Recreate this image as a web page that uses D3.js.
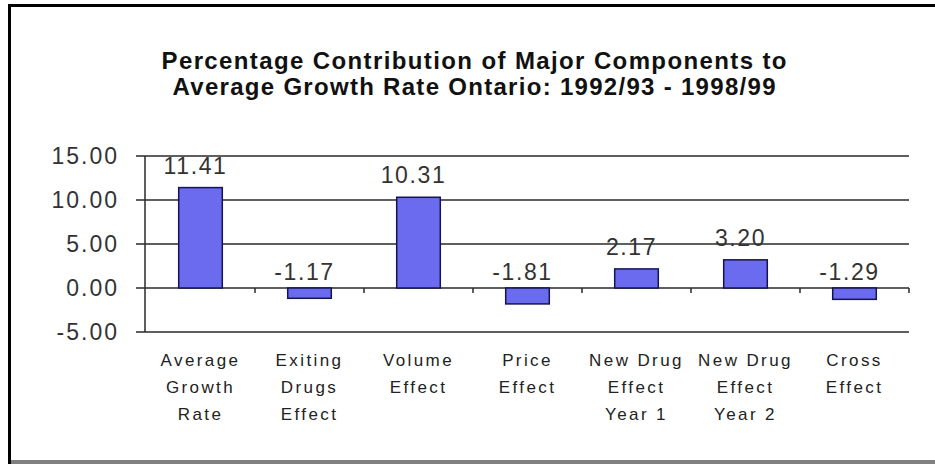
<!DOCTYPE html>
<html>
<head>
<meta charset="utf-8">
<script src="https://cdn.jsdelivr.net/npm/d3@7"></script>
<style>
  body { margin: 0; background: #fff; }
  text { font-family: "Liberation Sans", Arial, sans-serif; }
  .title { font-family: "Liberation Sans Narrow", "Arial Narrow", "Liberation Sans", sans-serif; }
</style>
</head>
<body>
<div id="chart"></div>
<script>
var titleLines = ["Percentage Contribution of Major Components to",
                  "Average Growth Rate Ontario: 1992/93 - 1998/99"];
var categories = ["Average Growth Rate", "Exiting Drugs Effect", "Volume Effect", "Price Effect",
                  "New Drug Effect Year 1", "New Drug Effect Year 2", "Cross Effect"];
var categoryLines = [["Average", "Growth", "Rate"], ["Exiting", "Drugs", "Effect"], ["Volume", "Effect"],
                     ["Price", "Effect"], ["New Drug", "Effect", "Year 1"], ["New Drug", "Effect", "Year 2"],
                     ["Cross", "Effect"]];
var values = [11.41, -1.17, 10.31, -1.81, 2.17, 3.20, -1.29];
var yTicks = [-5, 0, 5, 10, 15];

var width = 935, height = 464;
var fmt = function (d) { return d.toFixed(2); };

var svg = d3.select("#chart")
    .append("svg")
    .attr("width", width)
    .attr("height", height);

// frame: black left and top, gray bottom
svg.append("rect").attr("x", 8).attr("y", 4).attr("width", 927).attr("height", 3).attr("fill", "#000");
svg.append("rect").attr("x", 8).attr("y", 4).attr("width", 3).attr("height", 460).attr("fill", "#000");
svg.append("rect").attr("x", 11).attr("y", 460).attr("width", 924).attr("height", 4).attr("fill", "#808080");

// title (stretched to the width of the original)
var titleWidths = [625, 603];
svg.selectAll(".title")
    .data(titleLines)
    .enter()
    .append("text")
    .attr("class", "title")
    .attr("x", 474)
    .attr("y", function (d, i) { return 69 + i * 26; })
    .attr("text-anchor", "middle")
    .attr("font-size", 24)
    .attr("font-weight", "bold")
    .attr("textLength", function (d, i) { return titleWidths[i]; })
    .attr("lengthAdjust", "spacing")
    .attr("fill", "#111")
    .text(function (d) { return d; });

var x = d3.scaleBand()
    .domain(categories)
    .range([146, 909])
    .paddingInner(0.6)
    .paddingOuter(0.3);

var y = d3.scaleLinear()
    .domain([-5, 15])
    .range([332, 156]);

// gridlines
svg.append("g")
    .selectAll("line")
    .data(yTicks)
    .enter()
    .append("line")
    .attr("x1", 136)
    .attr("x2", 909)
    .attr("y1", function (d) { return y(d); })
    .attr("y2", function (d) { return y(d); })
    .attr("stroke", "#2a2a2a")
    .attr("stroke-width", 1.5);

// y axis line
svg.append("line")
    .attr("x1", 145).attr("x2", 145)
    .attr("y1", y(15)).attr("y2", y(-5))
    .attr("stroke", "#2a2a2a")
    .attr("stroke-width", 1.5);

// tick labels
svg.append("g")
    .selectAll("text")
    .data(yTicks)
    .enter()
    .append("text")
    .attr("x", 119)
    .attr("y", function (d) { return y(d) + 8; })
    .attr("text-anchor", "end")
    .attr("font-size", 23)
    .attr("letter-spacing", 2)
    .attr("fill", "#333")
    .text(fmt);

// category boundary ticks on the zero line
var step = x.step();
svg.append("g")
    .selectAll("line")
    .data(categories)
    .enter()
    .append("line")
    .attr("x1", function (d) { return x(d) - x.paddingOuter() * step + step; })
    .attr("x2", function (d) { return x(d) - x.paddingOuter() * step + step; })
    .attr("y1", y(0))
    .attr("y2", y(0) + 5)
    .attr("stroke", "#2a2a2a")
    .attr("stroke-width", 1.5);

// bars
svg.append("g")
    .selectAll("rect")
    .data(values)
    .enter()
    .append("rect")
    .attr("x", function (d, i) { return x(categories[i]); })
    .attr("y", function (d) { return y(Math.max(d, 0)); })
    .attr("width", x.bandwidth())
    .attr("height", function (d) { return Math.abs(y(d) - y(0)); })
    .attr("fill", "#6b6bef")
    .attr("stroke", "#141450")
    .attr("stroke-width", 1.5);

// value labels
svg.append("g")
    .selectAll("text")
    .data(values)
    .enter()
    .append("text")
    .attr("x", function (d, i) { return x(categories[i]) + x.bandwidth() / 2 - 5; })
    .attr("y", function (d) { return d >= 0 ? y(d) - 14 : y(0) - 8; })
    .attr("text-anchor", "middle")
    .attr("font-size", 23)
    .attr("letter-spacing", 1.6)
    .attr("fill", "#333")
    .text(fmt);

// category labels
var catG = svg.append("g")
    .selectAll("text")
    .data(categories)
    .enter()
    .append("text")
    .attr("text-anchor", "middle")
    .attr("font-size", 17)
    .attr("letter-spacing", 2.4)
    .attr("fill", "#222");

catG.selectAll("tspan")
    .data(function (d, i) {
        return categoryLines[i].map(function (t) { return { text: t, cat: d }; });
    })
    .enter()
    .append("tspan")
    .attr("x", function (d) { return x(d.cat) + x.bandwidth() / 2; })
    .attr("y", function (d, j) { return 366 + j * 27; })
    .text(function (d) { return d.text; });
</script>
</body>
</html>
